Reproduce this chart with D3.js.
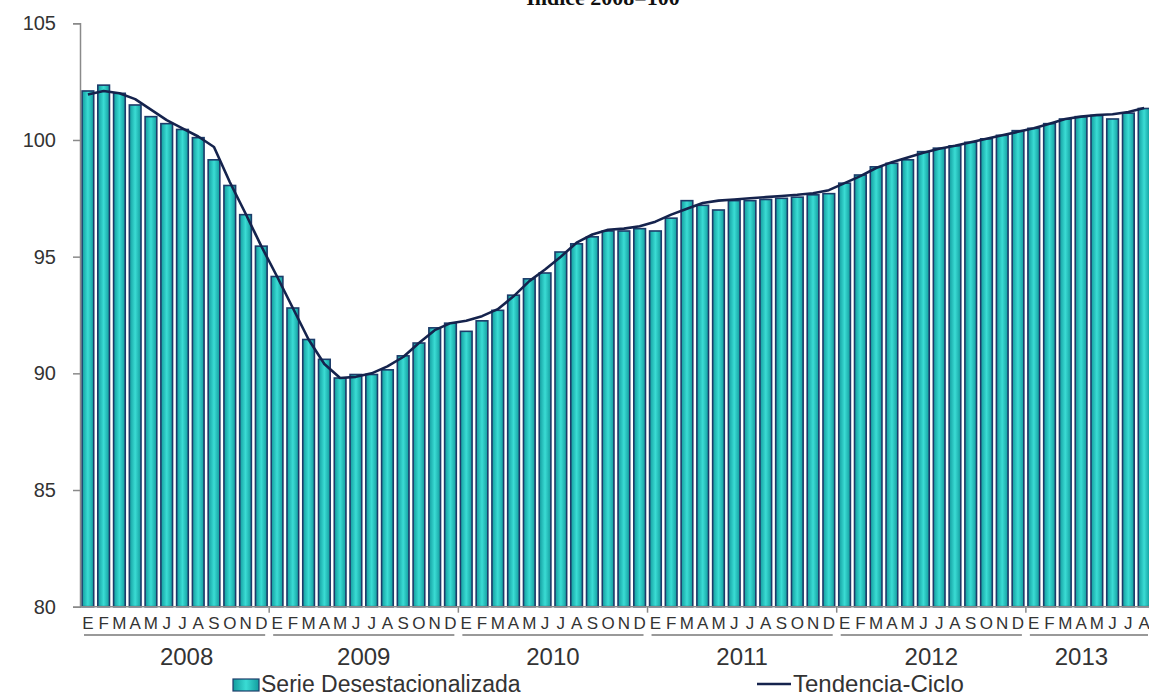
<!DOCTYPE html>
<html>
<head>
<meta charset="utf-8">
<script src="https://cdn.jsdelivr.net/npm/d3@7"></script>
<style>
  body { margin: 0; background: #fff; }
  svg { display: block; font-family: "Liberation Sans", Arial, sans-serif; }
</style>
</head>
<body>
<div id="chart"></div>
<script>
// Data (Índice 2008=100, Jan 2008 - Aug 2013)
const years = ['2008', '2009', '2010', '2011', '2012', '2013'];
const monthLetters = ['E', 'F', 'M', 'A', 'M', 'J', 'J', 'A', 'S', 'O', 'N', 'D'];
const yTicks = [80, 85, 90, 95, 100, 105];

const serieDesest = [
    102.1, 102.35, 102.0, 101.5, 101.0, 100.7, 100.45, 100.1, 99.15, 98.05, 96.8, 95.45,
    94.15, 92.8, 91.45, 90.6, 89.8, 89.95, 89.95, 90.15, 90.75, 91.3, 91.95, 92.15,
    91.8, 92.25, 92.7, 93.35, 94.05, 94.3, 95.2, 95.55, 95.85, 96.1, 96.1, 96.2,
    96.1, 96.65, 97.4, 97.2, 97.0, 97.4, 97.4, 97.45, 97.5, 97.55, 97.65, 97.7,
    98.15, 98.5, 98.85, 99.0, 99.15, 99.5, 99.65, 99.75, 99.9, 100.05, 100.2, 100.4,
    100.5, 100.7, 100.9, 101.0, 101.05, 100.9, 101.15, 101.35
];

const tendenciaCiclo = [
    101.95, 102.1, 102.0, 101.75, 101.3, 100.85, 100.5, 100.15, 99.7, 98.2, 96.85, 95.45,
    94.15, 92.8, 91.45, 90.4, 89.8, 89.85, 90.0, 90.3, 90.7, 91.3, 91.85, 92.15,
    92.25, 92.45, 92.75, 93.3, 93.95, 94.45, 95.0, 95.6, 95.95, 96.15, 96.2, 96.3,
    96.5, 96.8, 97.05, 97.3, 97.4, 97.45, 97.5, 97.55, 97.6, 97.65, 97.72, 97.85,
    98.15, 98.45, 98.8, 99.05, 99.25, 99.45, 99.62, 99.75, 99.9, 100.05, 100.2, 100.35,
    100.5, 100.7, 100.9, 101.0, 101.07, 101.1, 101.2, 101.37
];

const width = 1149;
const height = 696;
const margin = { left: 80, right: -3, top: 23.3, bottom: 89.3 };

// one entry per month
const months = serieDesest.map((v, i) => ({
    i: i,
    year: years[Math.floor(i / 12)],
    letter: monthLetters[i % 12],
    value: v,
    trend: tendenciaCiclo[i]
}));

const svg = d3.select('#chart')
    .append('svg')
    .attr('width', width)
    .attr('height', height);

const x = d3.scaleBand()
    .domain(months.map(d => d.i))
    .range([margin.left, width - margin.right])
    .paddingInner(0.26)
    .paddingOuter(0.13);

const y = d3.scaleLinear()
    .domain([80, 105])
    .range([height - margin.bottom, margin.top]);

// Bar gradient
const defs = svg.append('defs');
const grad = defs.append('linearGradient')
    .attr('id', 'barGrad')
    .attr('x1', '0%').attr('x2', '100%')
    .attr('y1', '0%').attr('y2', '0%');
grad.append('stop').attr('offset', '0%').attr('stop-color', '#139c9e');
grad.append('stop').attr('offset', '50%').attr('stop-color', '#3adcd4');
grad.append('stop').attr('offset', '100%').attr('stop-color', '#139c9e');

// Title (cut at the top edge like the original)
svg.append('text')
    .attr('x', 603)
    .attr('y', 5)
    .attr('text-anchor', 'middle')
    .style('font-family', '"Liberation Serif", "Times New Roman", serif')
    .style('font-weight', 'bold')
    .style('font-size', '22px')
    .style('fill', '#111')
    .text('Índice 2008=100');

// Bars
svg.append('g')
    .selectAll('rect')
    .data(months)
    .enter()
    .append('rect')
    .attr('x', d => x(d.i))
    .attr('width', x.bandwidth())
    .attr('y', d => y(d.value))
    .attr('height', d => y(80) - y(d.value))
    .style('fill', 'url(#barGrad)')
    .style('stroke', '#1d3c6a')
    .style('stroke-width', 1.6);

// Trend line
const line = d3.line()
    .x(d => x(d.i) + x.bandwidth() / 2)
    .y(d => y(d.trend));

svg.append('path')
    .datum(months)
    .attr('d', line)
    .style('fill', 'none')
    .style('stroke', '#15234d')
    .style('stroke-width', 2.6)
    .style('stroke-linejoin', 'round');

// Y axis
const yAxis = d3.axisLeft(y)
    .tickValues(yTicks)
    .tickSize(7)
    .tickPadding(17);

const yg = svg.append('g')
    .attr('transform', `translate(${margin.left},0)`)
    .call(yAxis);
yg.select('.domain').style('stroke', '#8a8a8a').style('stroke-width', 1.5);
yg.selectAll('.tick line').style('stroke', '#8a8a8a').style('stroke-width', 1.5);
yg.selectAll('.tick text')
    .style('font-size', '20px')
    .style('font-family', '"Liberation Sans", Arial, sans-serif')
    .style('fill', '#333');

// X axis baseline
const x0 = margin.left;
const x1 = width - margin.right;
svg.append('line')
    .attr('x1', x0).attr('x2', x1)
    .attr('y1', y(80)).attr('y2', y(80))
    .style('stroke', '#8a8a8a')
    .style('stroke-width', 1.5);

// Year boundaries on the axis
const yearStart = years.map((yr, k) => k * 12);
svg.append('g')
    .selectAll('line')
    .data(yearStart.slice(1))
    .enter()
    .append('line')
    .attr('x1', d => x(d) - x.step() * x.paddingInner() / 2)
    .attr('x2', d => x(d) - x.step() * x.paddingInner() / 2)
    .attr('y1', y(80))
    .attr('y2', y(80) + 6)
    .style('stroke', '#8a8a8a')
    .style('stroke-width', 1.5);

// Month letters
svg.append('g')
    .selectAll('text')
    .data(months)
    .enter()
    .append('text')
    .attr('x', d => x(d.i) + x.bandwidth() / 2)
    .attr('y', 629)
    .attr('text-anchor', 'middle')
    .style('font-size', '17px')
    .style('fill', '#333')
    .text(d => d.letter);

// Year underline + labels
const yearGroups = years.map((yr, k) => {
    const ms = months.filter(d => d.year === yr);
    const left = x(ms[0].i) - x.step() * x.paddingInner() / 2;
    const right = x(ms[ms.length - 1].i) + x.bandwidth() + x.step() * x.paddingInner() / 2;
    return { year: yr, left: left, right: right };
});

svg.append('g')
    .selectAll('line')
    .data(yearGroups)
    .enter()
    .append('line')
    .attr('x1', d => d.left + 4)
    .attr('x2', d => Math.min(d.right - 4, width))
    .attr('y1', 635).attr('y2', 635)
    .style('stroke', '#777')
    .style('stroke-width', 1.5);

svg.append('g')
    .selectAll('text')
    .data(yearGroups)
    .enter()
    .append('text')
    .attr('x', d => (d.left + Math.min(d.right, width - 12)) / 2 + (d.year === '2008' ? 12 : 0))
    .attr('y', 665)
    .attr('text-anchor', 'middle')
    .style('font-size', '24px')
    .style('fill', '#333')
    .text(d => d.year);

// Legend
const legend = svg.append('g');
legend.append('rect')
    .attr('x', 233).attr('y', 679)
    .attr('width', 26).attr('height', 12)
    .style('fill', 'url(#barGrad)')
    .style('stroke', '#1d3c6a')
    .style('stroke-width', 1.2);
legend.append('text')
    .attr('x', 261).attr('y', 692)
    .style('font-size', '23px')
    .style('fill', '#333')
    .text('Serie Desestacionalizada');
legend.append('line')
    .attr('x1', 757).attr('x2', 791)
    .attr('y1', 684).attr('y2', 684)
    .style('stroke', '#15234d')
    .style('stroke-width', 2.6);
legend.append('text')
    .attr('x', 793).attr('y', 692)
    .style('font-size', '24px')
    .style('fill', '#333')
    .text('Tendencia-Ciclo');
</script>
</body>
</html>
